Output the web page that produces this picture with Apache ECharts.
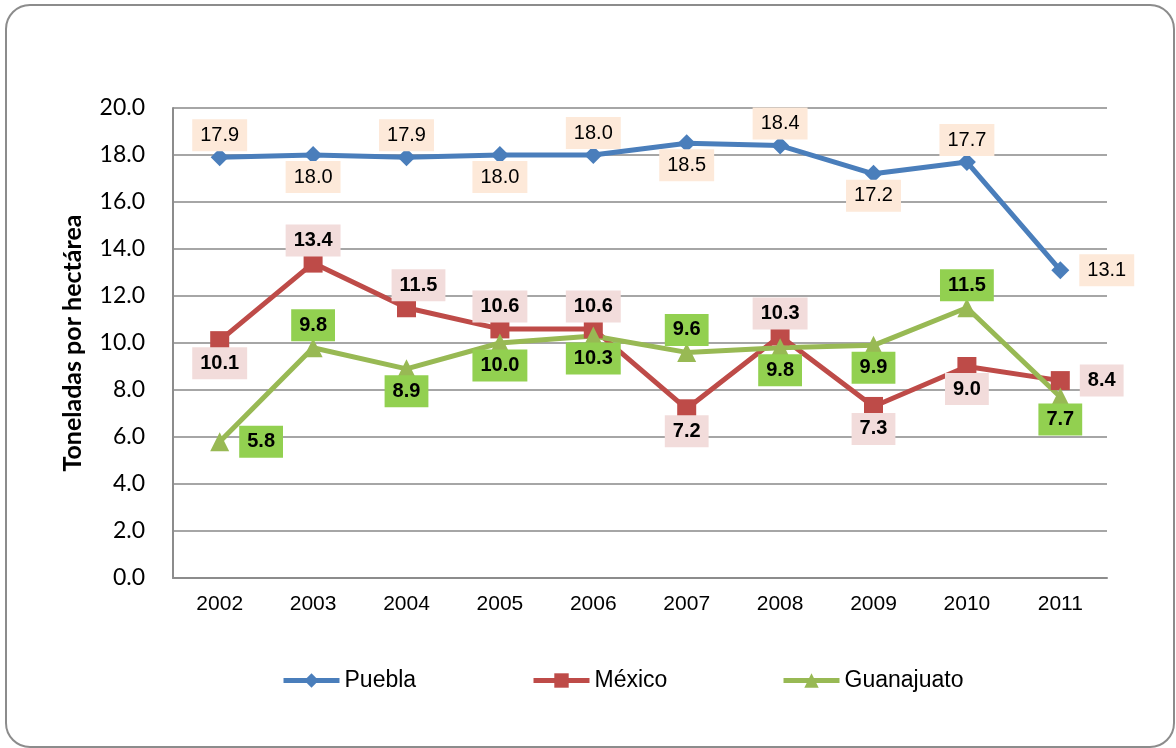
<!DOCTYPE html>
<html>
<head>
<meta charset="utf-8">
<title>Toneladas por hectárea</title>
<script src="https://cdn.jsdelivr.net/npm/echarts@6/dist/echarts.min.js"></script>
<style>
  html, body { margin: 0; padding: 0; background: #fff; }
  #chart { width: 1176px; height: 748px; }
</style>
</head>
<body>
<div id="chart"></div>
<script>
// datos
const years = ['2002', '2003', '2004', '2005', '2006', '2007', '2008', '2009', '2010', '2011']
const puebla = [17.9, 18.0, 17.9, 18.0, 18.0, 18.5, 18.4, 17.2, 17.7, 13.1]
const mexico = [10.1, 13.4, 11.5, 10.6, 10.6, 7.2, 10.3, 7.3, 9.0, 8.4]
const guanajuato = [5.8, 9.8, 8.9, 10.0, 10.3, 9.6, 9.8, 9.9, 11.5, 7.7]
const seriesNames = ['Puebla', 'México', 'Guanajuato']

// donde va cada etiqueta
const pueblaPos = ['top', 'bottom', 'top', 'bottom', 'top', 'bottom', 'top', 'bottom', 'top', 'right']
const mexicoPos = ['bottom', 'top', 'top', 'top', 'top', 'bottom', 'top', 'bottom', 'bottom', 'right']
const guanajuatoPos = ['right', 'top', 'bottom', 'bottom', 'bottom', 'top', 'bottom', 'bottom', 'top', 'bottom']

function withLabels(values, positions, extra) {
  return values.map((v, i) => {
    let label = { position: positions[i] }
    if (extra && extra[i]) Object.assign(label, extra[i])
    return { value: v, label: label }
  })
}

function makeSeries(name, values, positions, color, symbol, size, bg, bold, extra) {
  return {
    name: name,
    type: 'line',
    data: withLabels(values, positions, extra),
    symbol: symbol,
    symbolSize: size,
    lineStyle: { color: color, width: 5 },
    itemStyle: { color: color },
    label: {
      show: true,
      formatter: p => p.value.toFixed(1),
      fontFamily: 'Liberation Sans, Arial, sans-serif',
      fontSize: 20,
      lineHeight: 20,
      fontWeight: bold ? 'bold' : 'normal',
      color: '#000',
      backgroundColor: bg,
      padding: [6, 8, 6, 8],
      distance: -3
    },
    emphasis: { disabled: true },
    animation: false
  }
}

// una leyenda por serie, con separacion fija como en Excel
const legends = seriesNames.map((n, i) => ({
  left: 276 + i * 250,
  top: 664,
  itemWidth: 56,
  itemHeight: 18,
  lineStyle: { width: 5 },
  textStyle: { fontFamily: 'Liberation Sans, Arial, sans-serif', fontSize: 23, color: '#000' },
  data: [n]
}))

const chart = echarts.init(document.getElementById('chart'))
chart.setOption({
  backgroundColor: '#fff',
  graphic: [{
    type: 'rect',
    shape: { x: 6, y: 5, width: 1168, height: 742, r: 24 },
    style: { fill: 'none', stroke: '#8c8c8c', lineWidth: 2 },
    silent: true
  }],
  grid: { left: 173, right: 69, top: 108, bottom: 170 },
  legend: legends,
  xAxis: {
    type: 'category',
    data: years,
    axisTick: { show: false },
    axisLine: { lineStyle: { color: '#8c8c8c', width: 2 } },
    axisLabel: { fontFamily: 'Liberation Sans, Arial, sans-serif', fontSize: 21, color: '#000', margin: 16 }
  },
  yAxis: {
    type: 'value',
    min: 0,
    max: 20,
    interval: 2,
    name: 'Toneladas por hectárea',
    nameLocation: 'middle',
    nameGap: 88,
    nameTextStyle: { fontFamily: 'Lato, Open Sans, sans-serif', fontSize: 25, fontWeight: 'bold', color: '#000' },
    axisLine: { show: true, lineStyle: { color: '#8c8c8c', width: 2 } },
    axisTick: { show: false },
    splitLine: { lineStyle: { color: '#a6a6a6', width: 2 } },
    axisLabel: {
      fontFamily: 'Lato, Open Sans, sans-serif',
      fontSize: 23,
      color: '#000',
      margin: 28,
      formatter: v => v.toFixed(1)
    }
  },
  series: [
    makeSeries('Puebla', puebla, pueblaPos, '#4a7ebb', 'diamond', 18, '#fde9d9', false,
      { 9: { distance: 10 } }),
    makeSeries('México', mexico, mexicoPos, '#be4b48', 'rect', 19, '#f2dcdb', true,
      { 2: { offset: [12, 0] }, 9: { distance: 10 } }),
    makeSeries('Guanajuato', guanajuato, guanajuatoPos, '#98b954', 'triangle', 19, '#92d050', true,
      { 0: { distance: 10 } })
  ]
})
</script>
</body>
</html>
